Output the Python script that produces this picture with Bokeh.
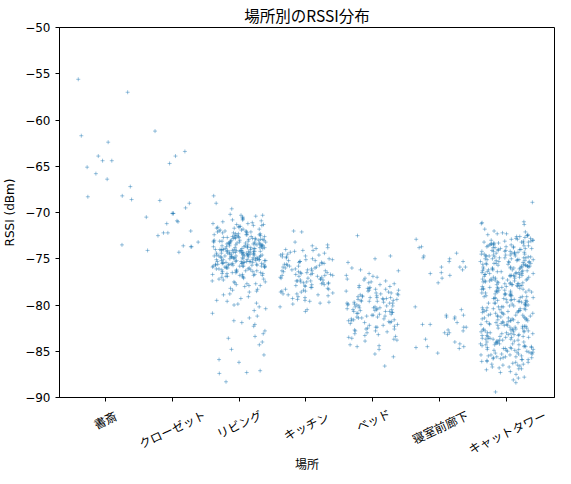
import numpy as np
from bokeh.plotting import figure
from bokeh.layouts import column
from bokeh.models import ColumnDataSource, FixedTicker, Range1d
from bokeh.core.properties import value
from bokeh.embed import file_html
from bokeh.resources import INLINE

categories = ["書斎", "クローゼット", "リビング", "キッチン", "ベッド", "寝室前廊下", "キャットタワー"]
y_ticks = [-90, -85, -80, -75, -70, -65, -60, -55, -50]
y_tick_labels = ["−90", "−85", "−80", "−75", "−70", "−65", "−60", "−55", "−50"]

shosai = [-55.6, -57.0, -61.7, -62.4, -63.9, -64.4, -64.4, -65.1, -65.8, -66.4,
          -67.2, -68.2, -68.3, -68.6, -73.5]

closet = [-61.2, -63.4, -63.9, -64.7, -68.7, -69.0, -69.5, -70.1, -70.1, -70.1,
          -70.5, -70.9, -71.0, -71.2, -72.0, -72.2, -72.2, -72.5, -73.2, -73.6,
          -73.7, -73.7, -74.1, -74.3]

living = [-68.2, -69.0, -69.6,
          -70.2, -70.3, -70.3, -70.5, -70.6, -70.7, -70.8, -70.8, -70.9, -70.4,
          -71.0, -71.1, -71.2, -71.3, -71.3, -71.4, -71.5, -71.5, -71.6, -71.6,
          -71.7, -71.7, -71.8, -71.8, -71.9, -71.9, -71.4, -71.2,
          -72.0, -72.4, -72.8, -72.2, -72.6, -72.1, -72.9, -72.5, -72.3, -72.7,
          -72.5, -72.1, -72.7, -72.3, -72.9, -72.0, -72.6, -72.2, -72.8, -72.4,
          -72.2, -72.8, -72.0, -72.6, -72.4, -72.9, -72.1, -72.7, -72.5, -72.3,
          -72.4, -72.6, -72.7, -72.8, -72.9,
          -73.0, -73.4, -73.8, -73.2, -73.6, -73.1, -73.9, -73.5, -73.3, -73.7,
          -73.5, -73.1, -73.7, -73.3, -73.9, -73.0, -73.6, -73.2, -73.8, -73.4,
          -73.2, -73.8, -73.0, -73.6, -73.4, -73.9, -73.1, -73.7, -73.5, -73.3,
          -73.7, -73.3, -73.5, -73.9, -73.1, -73.4, -73.0, -73.8, -73.2, -73.6,
          -73.9, -73.6, -73.2, -73.4, -73.0, -73.7, -73.5, -73.1, -73.3, -73.8,
          -74.0, -74.4, -74.8, -74.2, -74.6, -74.1, -74.9, -74.5, -74.3, -74.7,
          -74.5, -74.1, -74.7, -74.3, -74.9, -74.0, -74.6, -74.2, -74.8, -74.4,
          -74.2, -74.8, -74.0, -74.6, -74.4, -74.9, -74.1, -74.7, -74.5, -74.3,
          -74.7, -74.3, -74.5, -74.9, -74.1, -74.4, -74.0, -74.8, -74.2, -74.6,
          -74.9, -74.6, -74.2, -74.4, -74.0, -74.7, -74.5, -74.1, -74.3, -74.8,
          -74.3, -74.7, -74.1, -74.5, -74.8, -74.2, -74.4, -74.0, -74.6, -74.9,
          -75.0, -75.4, -75.8, -75.2, -75.6, -75.1, -75.9, -75.5, -75.3, -75.7,
          -75.5, -75.1, -75.7, -75.3, -75.9, -75.0, -75.6, -75.2, -75.8, -75.4,
          -75.2, -75.8, -75.0, -75.6, -75.4, -75.9, -75.1, -75.7, -75.5, -75.3,
          -75.7, -75.3, -75.5, -75.9, -75.1, -75.4, -75.0, -75.8, -75.2, -75.6,
          -75.9, -75.6, -75.2, -75.4, -75.0, -75.7, -75.5, -75.1, -75.3, -75.8,
          -75.1, -75.3, -75.5, -75.6, -75.8,
          -76.0, -76.4, -76.8, -76.2, -76.6, -76.1, -76.9, -76.5, -76.3, -76.7,
          -76.5, -76.1, -76.7, -76.3, -76.9, -76.0, -76.6, -76.2, -76.8, -76.4,
          -76.2, -76.8, -76.0, -76.6, -76.4, -76.9, -76.1, -76.7, -76.5, -76.3,
          -77.0, -77.4, -77.8, -77.2, -77.6, -77.1, -77.9, -77.5, -77.3, -77.7,
          -77.2, -77.5, -77.7, -77.0, -77.9,
          -78.0, -78.2, -78.3, -78.5, -78.6, -78.8, -78.9, -78.4,
          -79.1, -79.3, -79.5, -79.6, -79.8, -79.9,
          -80.0, -80.2, -80.4, -80.6, -80.9,
          -81.2, -81.4, -81.7, -81.9,
          -82.1, -82.3, -82.8,
          -83.1, -83.4, -83.6,
          -84.0, -84.3, -84.8,
          -85.4, -85.9,
          -86.2,
          -87.1, -87.3, -87.4,
          -88.3]

kitchen = [-72.0, -72.1,
           -73.2, -73.5, -73.6, -73.8, -73.9,
           -74.0, -74.4, -74.8, -74.2, -74.6, -74.1, -74.9, -74.5, -74.3, -74.7,
           -74.1, -74.5, -74.6, -74.8,
           -75.0, -75.4, -75.8, -75.2, -75.6, -75.1, -75.9, -75.5, -75.3, -75.7,
           -75.5, -75.1, -75.7, -75.3, -75.9, -75.0, -75.6, -75.2, -75.8, -75.4,
           -76.0, -76.4, -76.8, -76.2, -76.6, -76.1, -76.9, -76.5, -76.3, -76.7,
           -76.5, -76.1, -76.7, -76.3, -76.9, -76.0, -76.6, -76.2, -76.8, -76.4,
           -76.3, -76.5, -76.7, -76.8,
           -77.0, -77.4, -77.8, -77.2, -77.6, -77.1, -77.9, -77.5, -77.3, -77.7,
           -77.5, -77.1, -77.7, -77.3, -77.9, -77.0, -77.6, -77.2, -77.8, -77.4,
           -77.4, -77.6,
           -78.0, -78.4, -78.8, -78.2, -78.6, -78.1, -78.9, -78.5, -78.3, -78.7,
           -78.1, -78.3, -78.5, -78.6, -78.8, -78.9,
           -79.0, -79.4, -79.8, -79.2, -79.6, -79.1, -79.9, -79.5, -79.3, -79.7,
           -80.2, -80.5, -80.7]

bed = [-72.5, -74.7, -75.0, -75.4,
       -76.0, -76.2, -76.3, -76.6, -76.8, -76.9,
       -77.0, -77.4, -77.8, -77.2, -77.6, -77.1, -77.9, -77.5, -77.3, -77.7,
       -78.0, -78.4, -78.8, -78.2, -78.6, -78.1, -78.9, -78.5, -78.3, -78.7,
       -78.1, -78.2, -78.4, -78.5, -78.7, -78.8, -78.3, -78.9,
       -79.0, -79.4, -79.8, -79.2, -79.6, -79.1, -79.9, -79.5, -79.3, -79.7,
       -79.5, -79.1, -79.7, -79.3, -79.9, -79.0, -79.6, -79.2, -79.8, -79.4,
       -79.2, -79.4, -79.6, -79.8,
       -80.0, -80.4, -80.8, -80.2, -80.6, -80.1, -80.9, -80.5, -80.3, -80.7,
       -80.5, -80.1, -80.7, -80.3, -80.9, -80.0, -80.6, -80.2, -80.8, -80.4,
       -80.1, -80.3, -80.5, -80.7,
       -81.0, -81.4, -81.8, -81.2, -81.6, -81.1, -81.9, -81.5, -81.3, -81.7,
       -81.5, -81.1, -81.7, -81.3, -81.9, -81.0, -81.6, -81.2, -81.8, -81.4,
       -82.0, -82.4, -82.8, -82.2, -82.6, -82.1, -82.9, -82.5, -82.3, -82.7,
       -82.2, -82.4, -82.6, -82.8,
       -83.0, -83.4, -83.8, -83.2, -83.6, -83.1, -83.9, -83.5, -83.3, -83.7,
       -84.3, -84.4, -84.5, -84.8,
       -85.3, -85.6,
       -86.6]

hallway = [-72.9, -73.7, -73.8, -74.4, -74.7, -74.9, -75.0, -75.3, -75.3, -75.9,
           -75.9, -75.9, -76.2, -76.5, -76.6, -76.8, -77.1, -77.6, -80.2, -80.5,
           -81.1, -81.1, -81.3, -81.3, -81.5, -81.9, -82.1, -82.1, -82.4, -82.4,
           -82.7, -82.8, -83.0, -83.0, -83.2, -83.7, -84.0, -84.2, -84.5, -84.5,
           -84.6, -84.7, -85.2]

cattower = [-68.9,
            -71.0, -71.1, -71.2, -71.3, -71.8,
            -72.0, -72.4, -72.8, -72.2, -72.6, -72.1, -72.9, -72.5, -72.3, -72.7,
            -72.3, -72.5, -72.6, -72.8, -72.9, -72.4,
            -73.0, -73.4, -73.8, -73.2, -73.6, -73.1, -73.9, -73.5, -73.3, -73.7,
            -73.5, -73.1, -73.7, -73.3, -73.9, -73.0, -73.6, -73.2, -73.8, -73.4,
            -73.2, -73.8, -73.0, -73.6, -73.4, -73.9, -73.1, -73.7, -73.5, -73.3,
            -74.0, -74.4, -74.8, -74.2, -74.6, -74.1, -74.9, -74.5, -74.3, -74.7,
            -74.5, -74.1, -74.7, -74.3, -74.9, -74.0, -74.6, -74.2, -74.8, -74.4,
            -74.2, -74.8, -74.0, -74.6, -74.4, -74.9, -74.1, -74.7, -74.5, -74.3,
            -74.2, -74.5, -74.7, -74.9,
            -75.0, -75.4, -75.8, -75.2, -75.6, -75.1, -75.9, -75.5, -75.3, -75.7,
            -75.5, -75.1, -75.7, -75.3, -75.9, -75.0, -75.6, -75.2, -75.8, -75.4,
            -75.2, -75.8, -75.0, -75.6, -75.4, -75.9, -75.1, -75.7, -75.5, -75.3,
            -75.1, -75.3, -75.5, -75.6, -75.8, -75.9,
            -76.0, -76.4, -76.8, -76.2, -76.6, -76.1, -76.9, -76.5, -76.3, -76.7,
            -76.5, -76.1, -76.7, -76.3, -76.9, -76.0, -76.6, -76.2, -76.8, -76.4,
            -76.2, -76.8, -76.0, -76.6, -76.4, -76.9, -76.1, -76.7, -76.5, -76.3,
            -76.0, -76.4, -76.6, -76.8,
            -77.0, -77.4, -77.8, -77.2, -77.6, -77.1, -77.9, -77.5, -77.3, -77.7,
            -77.5, -77.1, -77.7, -77.3, -77.9, -77.0, -77.6, -77.2, -77.8, -77.4,
            -77.2, -77.8, -77.0, -77.6, -77.4, -77.9, -77.1, -77.7, -77.5, -77.3,
            -77.3, -77.7,
            -78.0, -78.4, -78.8, -78.2, -78.6, -78.1, -78.9, -78.5, -78.3, -78.7,
            -78.5, -78.1, -78.7, -78.3, -78.9, -78.0, -78.6, -78.2, -78.8, -78.4,
            -78.2, -78.8, -78.0, -78.6, -78.4, -78.9, -78.1, -78.7, -78.5, -78.3,
            -79.0, -79.4, -79.8, -79.2, -79.6, -79.1, -79.9, -79.5, -79.3, -79.7,
            -79.5, -79.1, -79.7, -79.3, -79.9, -79.0, -79.6, -79.2, -79.8, -79.4,
            -79.2, -79.8, -79.0, -79.6, -79.4, -79.9, -79.1, -79.7, -79.5, -79.3,
            -80.0, -80.4, -80.8, -80.2, -80.6, -80.1, -80.9, -80.5, -80.3, -80.7,
            -80.5, -80.1, -80.7, -80.3, -80.9, -80.0, -80.6, -80.2, -80.8, -80.4,
            -80.1, -80.2, -80.4, -80.5, -80.6, -80.7, -80.8, -80.9,
            -81.0, -81.4, -81.8, -81.2, -81.6, -81.1, -81.9, -81.5, -81.3, -81.7,
            -81.5, -81.1, -81.7, -81.3, -81.9, -81.0, -81.6, -81.2, -81.8, -81.4,
            -81.1, -81.2, -81.4, -81.5, -81.6, -81.7, -81.8, -81.9,
            -82.0, -82.4, -82.8, -82.2, -82.6, -82.1, -82.9, -82.5, -82.3, -82.7,
            -82.5, -82.1, -82.7, -82.3, -82.9, -82.0, -82.6, -82.2, -82.8, -82.4,
            -82.1, -82.2, -82.3, -82.5, -82.6, -82.7, -82.8, -82.9,
            -83.0, -83.4, -83.8, -83.2, -83.6, -83.1, -83.9, -83.5, -83.3, -83.7,
            -83.5, -83.1, -83.7, -83.3, -83.9, -83.0, -83.6, -83.2, -83.8, -83.4,
            -83.2, -83.8, -83.0, -83.6, -83.4, -83.9, -83.1, -83.7, -83.5, -83.3,
            -84.0, -84.4, -84.8, -84.2, -84.6, -84.1, -84.9, -84.5, -84.3, -84.7,
            -84.5, -84.1, -84.7, -84.3, -84.9, -84.0, -84.6, -84.2, -84.8, -84.4,
            -84.1, -84.2, -84.3, -84.5, -84.6, -84.7, -84.8, -84.9,
            -85.0, -85.4, -85.8, -85.2, -85.6, -85.1, -85.9, -85.5, -85.3, -85.7,
            -85.5, -85.1, -85.7, -85.3, -85.9, -85.0, -85.6, -85.2, -85.8, -85.4,
            -85.1, -85.3, -85.4, -85.6, -85.7, -85.9,
            -86.0, -86.4, -86.8, -86.2, -86.6, -86.1, -86.9, -86.5, -86.3, -86.7,
            -86.1, -86.2, -86.4, -86.5, -86.7, -86.9,
            -87.0, -87.2, -87.3, -87.5, -87.8, -87.9,
            -88.1, -88.4,
            -89.4]

series = [shosai, closet, living, kitchen, bed, hallway, cattower]

# horizontal strip jitter (deterministic hash) - positions only
xs, ys = [], []
for k, vals in enumerate(series):
    idx = np.arange(len(vals))
    h = np.sin(idx * 12.9898 + k * 78.233) * 43758.5453
    h = h - np.floor(h)
    xs.extend((k + (h - 0.5) * 0.8).tolist())
    ys.extend(vals)

src = ColumnDataSource(data=dict(x=xs, y=ys))
xr = Range1d(-0.68, 6.71)

FW = 495
p = figure(frame_width=FW, frame_height=370, x_range=xr, y_range=(-90, -50),
           output_backend="svg", toolbar_location=None,
           min_border_left=57, min_border_right=3, min_border_top=22, min_border_bottom=8)

p.title.text = "場所別のRSSI分布"
p.title.align = "center"
p.title.text_font = "Noto Sans CJK JP"
p.title.text_font_size = "15.5px"
p.title.text_font_style = "normal"
p.title.text_color = "black"
p.title.standoff = 3

p.xgrid.visible = False
p.ygrid.visible = False
p.outline_line_color = "black"
p.outline_line_alpha = 1
p.outline_line_width = 1

ya = p.yaxis[0]
ya.ticker = FixedTicker(ticks=y_ticks)
ya.major_label_overrides = {t: s for t, s in zip(y_ticks, y_tick_labels)}
ya.minor_tick_line_color = None
ya.major_tick_in = 0
ya.major_tick_out = 4
ya.major_label_standoff = 5
ya.major_label_text_font = "DejaVu Sans"
ya.major_label_text_font_size = "12px"
ya.major_label_text_color = "black"
ya.axis_label = "RSSI (dBm)"
ya.axis_label_standoff = 5
ya.axis_label_text_font = "DejaVu Sans"
ya.axis_label_text_font_size = "12px"
ya.axis_label_text_font_style = "normal"
ya.axis_label_text_color = "black"
ya.axis_line_color = "black"
ya.major_tick_line_color = "black"

xa = p.xaxis[0]
xa.ticker = FixedTicker(ticks=list(range(len(categories))))
xa.major_label_overrides = {i: "" for i in range(len(categories))}
xa.minor_tick_line_color = None
xa.major_tick_in = 0
xa.major_tick_out = 4
xa.major_label_text_font_size = "0px"
xa.major_label_standoff = 0
xa.axis_line_color = "black"
xa.major_tick_line_color = "black"

p.scatter(x="x", y="y", source=src, marker="cross", size=4,
          line_color="#1f77b4", line_alpha=0.45, line_width=1)

# strip below the axis holding the rotated category labels and the axis title
SH = 67
q = figure(frame_width=FW, frame_height=SH, x_range=xr, y_range=Range1d(0, SH),
           output_backend="svg", toolbar_location=None,
           x_axis_location=None, y_axis_location=None,
           min_border_left=57, min_border_right=3, min_border_top=0, min_border_bottom=0)
q.xgrid.visible = False
q.ygrid.visible = False
q.outline_line_color = None

label_drop = [14, 23, 18, 20, 14, 21, 26]   # px from strip top to label centre
lab_src = ColumnDataSource(data=dict(x=list(range(len(categories))),
                                     y=[SH - d for d in label_drop],
                                     t=categories))
q.text(x="x", y="y", text="t", source=lab_src, angle=25, angle_units="deg",
       text_align="center", text_baseline="middle",
       text_font=value("Noto Sans CJK JP"), text_font_size="12px", text_color="black")

q.text(x=[(xr.start + xr.end) / 2], y=[SH - 58], text=["場所"],
       text_align="center", text_baseline="middle",
       text_font=value("Noto Sans CJK JP"), text_font_size="12px", text_color="black")

layout = column(p, q, spacing=0)
open("out.html", "w").write(file_html(layout, INLINE))
